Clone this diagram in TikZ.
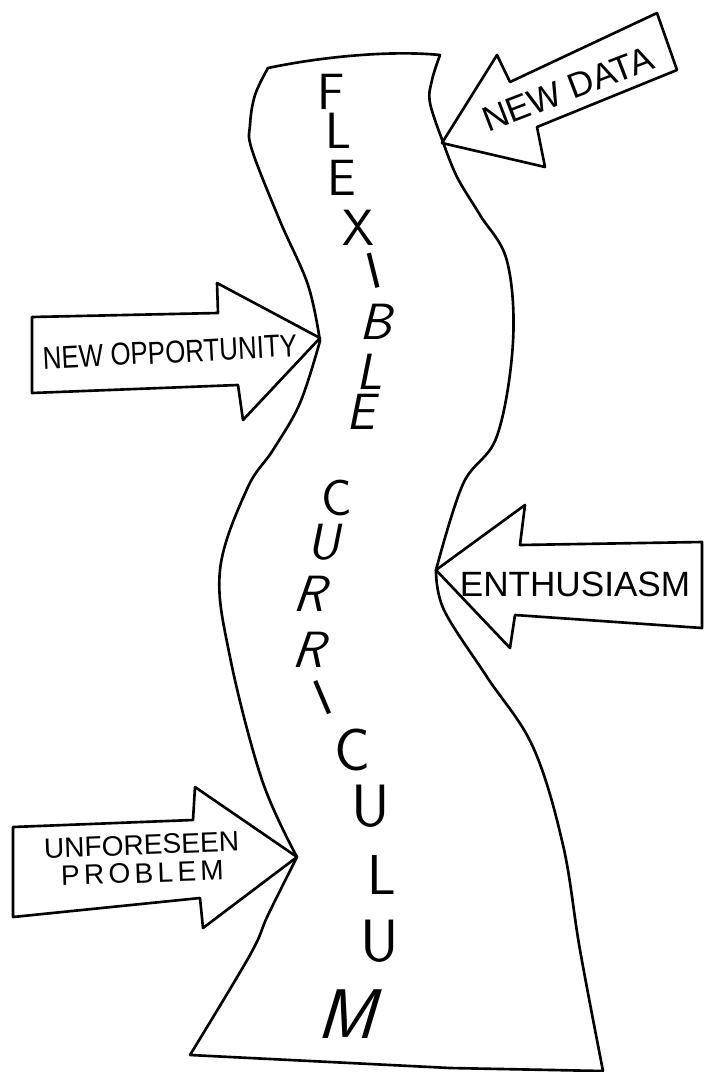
\documentclass[tikz,border=0pt]{standalone}
\usepackage{fontspec}
\newfontfamily\handfont{Liberation Sans}

\begin{document}
\begin{tikzpicture}[x=0.02cm, y=-0.02cm, line width=1.5pt, line join=round,
    band/.style={draw, line cap=round},
    push/.style={draw},
    tag/.style={font=\handfont\fontsize{18}{18}\selectfont, inner sep=0pt},
    letter/.style={font=\sffamily\fontsize{29}{29}\selectfont, inner sep=0pt}]
  \useasboundingbox (0,0) rectangle (704,1072);

  % Curriculum band
  \draw[band]
    plot[smooth, tension=0.6] coordinates {(268,68) (255,95) (250,125) (252,150) (280,221) (308,285) (320,341)}
    -- plot[smooth, tension=0.6] coordinates {(320,341) (300,403) (273,450) (247,489) (220,570) (230,657) (262,780) (297,857)}
    -- plot[smooth, tension=0.6] coordinates {(297,857) (268,915) (250,955) (190,1055)}
    -- (450,1068) -- (603,1071)
    -- plot[smooth, tension=0.6] coordinates {(603,1071) (580,950) (563,845) (533,747) (487,677) (444,610) (436,570)}
    -- plot[smooth, tension=0.6] coordinates {(436,570) (463,484) (497,436) (513,342) (507,261) (480,215) (457,177) (443,142)}
    -- plot[smooth, tension=0.6] coordinates {(443,142) (430,103) (432,80) (440,55)}
    .. controls (390,50) and (320,57) .. (268,68) -- cycle;

  % Arrow: new data
  \draw[push] (442,143) -- (497,55) -- (510,82) -- (657,13)
    -- (677,70) -- (537,127) -- (545,167) -- cycle;
  \node[tag, rotate=21, font=\handfont\fontsize{20}{20}\selectfont] (data) at (568,89) {NEW DATA};

  % Arrow: new opportunity
  \draw[push] (320,338) -- (243,420) -- (238,385) -- (32,393)
    -- (32,317) -- (218,313) -- (217,283) -- cycle;
  \node[tag, rotate=3, xscale=0.82] (opportunity) at (170,352) {NEW OPPORTUNITY};

  % Arrow: enthusiasm
  \draw[push] (436,570) -- (525,505) -- (520,545) -- (702,542)
    -- (702,628) -- (515,615) -- (510,648) -- cycle;
  \node[tag, font=\handfont\fontsize{20}{20}\selectfont] (enthusiasm) at (575,584) {ENTHUSIASM};

  % Arrow: unforeseen problem
  \draw[push] (297,857) -- (203,928) -- (200,898) -- (13,917)
    -- (13,827) -- (193,820) -- (195,787) -- cycle;
  \node[tag, rotate=2, align=center, font=\handfont\fontsize{16}{16}\selectfont]
    (problem) at (142,859) {UNFORESEEN\\{\addfontfeatures{LetterSpace=15}PROBLEM}};

  % Flexible
  \node[letter] (f) at (331,92) {F};
  \node[letter] (l1) at (338,131) {L};
  \node[letter] (e1) at (342,178) {E};
  \node[letter] (x) at (358,228) {X};
  \node[letter, rotate=14] (i1) at (374,271) {I};
  \node[letter, xslant=0.25] (b) at (380,322) {B};
  \node[letter, xslant=0.2] (l2) at (373,372) {L};
  \node[letter, xslant=0.2] (e2) at (364,412) {E};

  % Curriculum
  \node[letter] (c1) at (337,498) {C};
  \node[letter, xslant=0.2] (u1) at (327,542) {U};
  \node[letter, xslant=0.35] (r1) at (314,594) {R};
  \node[letter, xslant=0.35] (r2) at (313,650) {R};
  \node[letter, rotate=23] (i2) at (323,698) {I};
  \node[letter, font=\sffamily\fontsize{34}{34}\selectfont] (c2) at (352,750) {C};
  \node[letter, font=\sffamily\fontsize{34}{34}\selectfont] (u2) at (371,806) {U};
  \node[letter, font=\sffamily\fontsize{32}{32}\selectfont] (l3) at (382,875) {L};
  \node[letter, font=\sffamily\fontsize{34}{34}\selectfont] (u3) at (380,941) {U};
  \node[letter, font=\sffamily\fontsize{40}{40}\selectfont, xslant=0.3] (m) at (353,1014) {M};
\end{tikzpicture}
\end{document}
